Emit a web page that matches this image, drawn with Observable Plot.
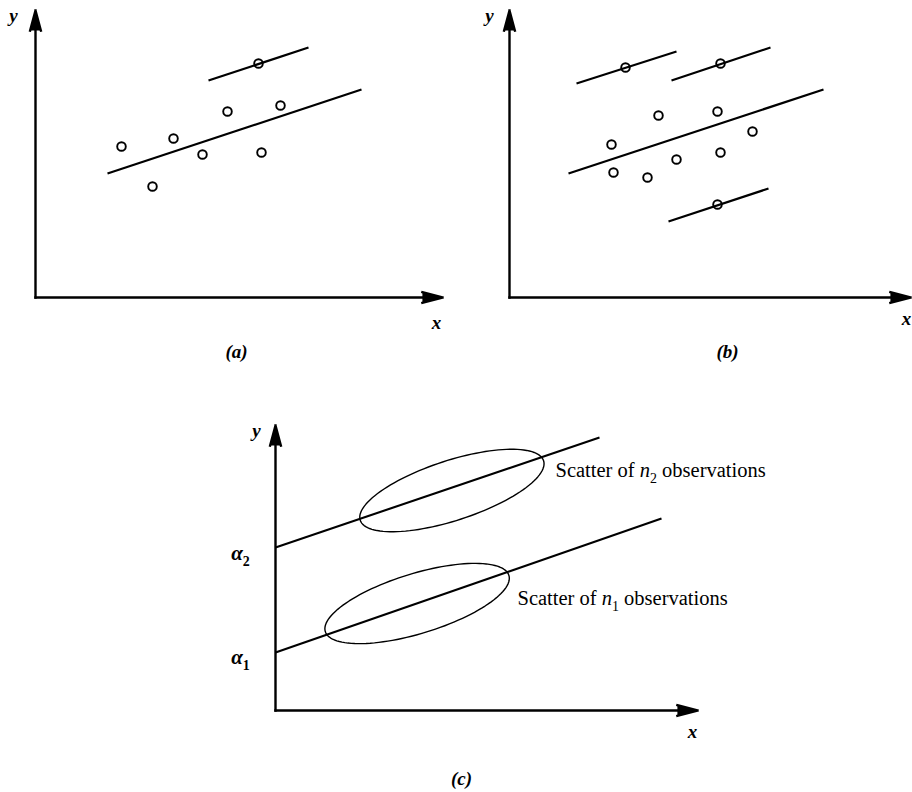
<!DOCTYPE html>
<html><head><meta charset="utf-8">
<script src="https://cdn.jsdelivr.net/npm/d3@7"></script>
<script src="https://cdn.jsdelivr.net/npm/@observablehq/plot@0.6"></script>
<style>
body{margin:0;background:#fff;}
#fig{position:relative;width:912px;height:792px;overflow:hidden;background:#fff;}
#fig svg{position:absolute;}
</style></head><body><div id="fig"></div>
<script>
// ---------- Panel (a) ----------
const aPointX = [2.15, 2.925, 3.45, 4.175, 4.8, 5.65, 6.125, 5.575];
const aPointY = [3.775, 2.775, 3.975, 3.575, 4.65, 3.625, 4.8, 5.85];
const aLineX1 = [1.8, 4.325];
const aLineY1 = [3.1, 5.425];
const aLineX2 = [8.15, 6.825];
const aLineY2 = [5.2, 6.25];
const aAxisEnd = [10.175, 7.175];   // x tip, y tip
const aLabelText = ["y", "x", "(a)"];
const aLabelX = [-0.55, 10.025, 5.025];
const aLabelY = [7.05, -0.625, -1.35];

// ---------- Panel (b) ----------
const bPointX = [2.55, 2.6, 3.45, 3.725, 4.175, 5.2, 5.275, 6.075, 2.9, 5.275, 5.2];
const bPointY = [3.825, 3.125, 3.0, 4.55, 3.45, 4.65, 3.625, 4.15, 5.75, 5.85, 2.325];
const bLineX1 = [1.475, 1.675, 4.05, 3.975];
const bLineY1 = [3.1, 5.35, 5.425, 1.9];
const bLineX2 = [7.85, 4.175, 6.525, 6.475];
const bLineY2 = [5.2, 6.15, 6.25, 2.725];
const bAxisEnd = [10.025, 7.175];
const bLabelText = ["y", "x", "(b)"];
const bLabelX = [-0.5, 9.925, 5.45];
const bLabelY = [7.05, -0.525, -1.35];

// ---------- Panel (c) ----------
const cLineX1 = [0, 0];
const cLineY1 = [4.075, 1.45];
const cLineX2 = [8.1, 9.65];
const cLineY2 = [6.825, 4.8];
const cEllCX = [4.41, 3.54];
const cEllCY = [5.5, 2.675];
const cEllA = [2.41, 2.4];
const cEllB = [0.75, 0.75];
const cEllAngle = [18, 17];
const cAxisEnd = [10.55, 7.125];
const cIntercepts = ["α_2", "α_1"];
const cInterceptX = [-0.875, -0.875];
const cInterceptY = [3.925, 1.325];
const cNotes = ["Scatter of n_2 observations", "Scatter of n_1 observations"];
const cNoteX = [7.0, 6.05];
const cNoteY = [6.0, 2.8];
const cLabelText = ["y", "x", "(c)"];
const cLabelX = [-0.475, 10.425, 4.65];
const cLabelY = [7.0, -0.525, -1.7];

const SERIF = "'Liberation Serif','Times New Roman',serif";

const zipPts = (xs, ys) => xs.map((x, i) => ({x, y: ys[i]}));
const zipSegs = (x1, y1, x2, y2) => x1.map((v, i) => ({x1: v, y1: y1[i], x2: x2[i], y2: y2[i]}));
const zipLabels = (t, xs, ys) => t.map((s, i) => ({text: s, x: xs[i], y: ys[i]}));

function axesMarks(end) {
  const arrows = [
    {x1: 0, y1: 0, x2: end[0], y2: 0},
    {x1: 0, y1: 0, x2: 0, y2: end[1]}
  ];
  return Plot.arrow(arrows, {x1: "x1", y1: "y1", x2: "x2", y2: "y2",
    stroke: "black", fill: "black", strokeWidth: 2.4, headLength: 13, headAngle: 30,
    strokeLinecap: "square", strokeLinejoin: "miter"});
}

function labelMarks(labels) {
  return Plot.text(labels, {x: "x", y: "y", text: "text", fontFamily: SERIF,
    fontSize: 19, fontWeight: "bold", fontStyle: "italic", fill: "black"});
}

function richText(svg, size) {
  svg.querySelectorAll("text").forEach(t => {
    const m = t.textContent.match(/^(.*?)([nα])_(\d)(.*)$/);
    if (!m) return;
    t.textContent = "";
    const ns = "http://www.w3.org/2000/svg";
    const add = (s, attrs) => {
      const sp = document.createElementNS(ns, "tspan");
      sp.textContent = s;
      for (const k in attrs) sp.setAttribute(k, attrs[k]);
      t.appendChild(sp);
    };
    if (m[1]) add(m[1], {});
    add(m[2], {"font-style": "italic"});
    add(m[3], {dy: (0.3 * size) + "px", "font-size": (0.68 * size) + "px", "font-style": "normal"});
    if (m[4]) add(m[4], {dy: (-0.3 * size) + "px"});
  });
}

function place(svg, left, top) {
  svg.style.left = left + "px";
  svg.style.top = top + "px";
  document.getElementById("fig").appendChild(svg);
}

function panel(o) {
  return Plot.plot({
    width: o.width, height: o.height, margin: 0,
    style: {background: "transparent", overflow: "visible"},
    x: {domain: [0, 10], range: o.xr, axis: null},
    y: {domain: [0, 7], range: o.yr, axis: null},
    marks: o.marks
  });
}

// Panel (a)
const svgA = panel({
  width: 460, height: 370, xr: [35, 435], yr: [297, 17],
  marks: [
    axesMarks(aAxisEnd),
    Plot.link(zipSegs(aLineX1, aLineY1, aLineX2, aLineY2), {x1: "x1", y1: "y1", x2: "x2", y2: "y2", stroke: "black", strokeWidth: 2.2}),
    Plot.dot(zipPts(aPointX, aPointY), {x: "x", y: "y", r: 4.3, stroke: "black", strokeWidth: 1.9, fill: "none"}),
    labelMarks(zipLabels(aLabelText, aLabelX, aLabelY))
  ]
});
place(svgA, 0, 0);

// Panel (b)
const svgB = panel({
  width: 452, height: 370, xr: [49, 449], yr: [297, 17],
  marks: [
    axesMarks(bAxisEnd),
    Plot.link(zipSegs(bLineX1, bLineY1, bLineX2, bLineY2), {x1: "x1", y1: "y1", x2: "x2", y2: "y2", stroke: "black", strokeWidth: 2.2}),
    Plot.dot(zipPts(bPointX, bPointY), {x: "x", y: "y", r: 4.3, stroke: "black", strokeWidth: 1.9, fill: "none"}),
    labelMarks(zipLabels(bLabelText, bLabelX, bLabelY))
  ]
});
place(svgB, 460, 0);

// Panel (c): ellipse outlines traced from centre, semi-axes and tilt
const ellipsePts = [];
cEllCX.forEach((cx, i) => {
  const th = cEllAngle[i] * Math.PI / 180;
  for (let k = 0; k < 120; k++) {
    const t = 2 * Math.PI * k / 120;
    const u = cEllA[i] * Math.cos(t), v = cEllB[i] * Math.sin(t);
    ellipsePts.push({id: i, x: cx + u * Math.cos(th) - v * Math.sin(th), y: cEllCY[i] + u * Math.sin(th) + v * Math.cos(th)});
  }
});

const svgC = panel({
  width: 912, height: 422, xr: [275, 675], yr: [340, 60],
  marks: [
    axesMarks(cAxisEnd),
    Plot.link(zipSegs(cLineX1, cLineY1, cLineX2, cLineY2), {x1: "x1", y1: "y1", x2: "x2", y2: "y2", stroke: "black", strokeWidth: 2.1}),
    Plot.line(ellipsePts, {x: "x", y: "y", z: "id", curve: "linear-closed", stroke: "black", strokeWidth: 1.4, fill: "none"}),
    Plot.text(zipLabels(cIntercepts, cInterceptX, cInterceptY), {x: "x", y: "y", text: "text", fontFamily: SERIF, fontSize: 21, fontWeight: "bold", fontStyle: "italic", fill: "black"}),
    Plot.text(zipLabels(cNotes, cNoteX, cNoteY), {x: "x", y: "y", text: "text", textAnchor: "start", fontFamily: SERIF, fontSize: 20.5, fill: "black"}),
    labelMarks(zipLabels(cLabelText, cLabelX, cLabelY))
  ]
});
richText(svgC, 20.5);
place(svgC, 0, 370);
</script></body></html>
